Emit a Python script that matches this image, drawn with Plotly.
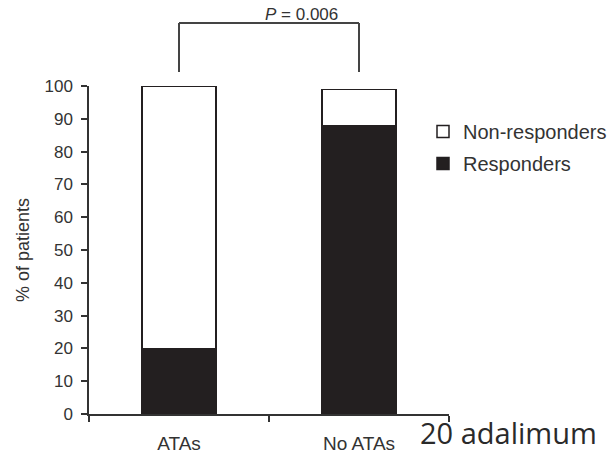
import plotly.graph_objects as go

categories = ["ATAs", "No ATAs"]
responders = [20, 88]
non_responders = [80, 11]
y_ticks = [0, 10, 20, 30, 40, 50, 60, 70, 80, 90, 100]
p_label = "<i>P</i> = 0.006"
page_text = "20 adalimum"

INK = "#231f20"
TXT = "#333333"
FONT = "Liberation Sans, Arial, sans-serif"

W, H = 615, 454
# plot area in window pixels: x 89..449, y 86..414
L, T = 89, 86
R = W - L - 360
B = H - T - 328


def py(win_y):
    return (414 - win_y) / 328


def px(win_x):
    return (win_x - 89) / 360


fig = go.Figure()
fig.add_trace(go.Bar(
    x=categories, y=responders, name="Responders",
    marker=dict(color=INK, line=dict(color=INK, width=1.5)),
    width=0.41, legendgroup="r", legendrank=2,
))
fig.add_trace(go.Bar(
    x=categories, y=non_responders, name="Non-responders",
    marker=dict(color="white", line=dict(color=INK, width=1.5)),
    width=0.41, legendgroup="n", legendrank=1,
))

fig.update_layout(
    width=W, height=H,
    margin=dict(l=L, r=R, t=T, b=B, autoexpand=False),
    barmode="stack",
    plot_bgcolor="white", paper_bgcolor="white",
    font=dict(family=FONT, size=17, color=TXT),
    showlegend=True,
    legend=dict(
        x=px(423), y=py(112), xanchor="left", yanchor="top",
        traceorder="grouped", tracegroupgap=3,
        font=dict(size=20, color=TXT, family=FONT),
        itemwidth=30, bgcolor="rgba(0,0,0,0)",
    ),
    xaxis=dict(
        type="category", range=[-0.5, 1.5],
        showline=True, linecolor=TXT, linewidth=1.5,
        ticks="outside", tickson="boundaries", ticklen=6, tickcolor=TXT, tickwidth=1.5,
        tickfont=dict(size=19, color=TXT), ticklabelstandoff=11,
        showgrid=False, zeroline=False,
    ),
    yaxis=dict(
        range=[0, 100], tickvals=y_ticks,
        showline=True, linecolor=TXT, linewidth=1.5,
        ticks="outside", ticklen=6, tickcolor=TXT, tickwidth=1.5,
        tickfont=dict(size=17, color=TXT), ticklabelstandoff=5,
        showgrid=False, zeroline=False,
        title=dict(text="% of patients", font=dict(size=18, color=TXT), standoff=10),
    ),
)

# significance bracket
y_top = py(23)
y_leg = py(72)
for shp in [
    dict(x0=0, x1=0, y0=y_leg, y1=y_top),
    dict(x0=1, x1=1, y0=y_leg, y1=y_top),
    dict(x0=0, x1=1, y0=y_top, y1=y_top),
]:
    fig.add_shape(type="line", xref="x", yref="paper", line=dict(color="#444444", width=2), **shp)

fig.add_annotation(
    text=p_label, xref="paper", yref="paper", x=px(301), y=py(15), yanchor="middle",
    showarrow=False, font=dict(size=17, color=TXT, family=FONT),
)

# page text fragment at the bottom right
fig.add_annotation(
    text=page_text, xref="paper", yref="paper", x=px(418), y=py(454),
    xanchor="left", yanchor="bottom", showarrow=False,
    font=dict(size=29, color="#2a2a2a", family="Open Sans, sans-serif"),
)

fig.write_html(
    "out.html",
    config={"displayModeBar": False},
    post_script="document.body.style.margin='0';",
)
